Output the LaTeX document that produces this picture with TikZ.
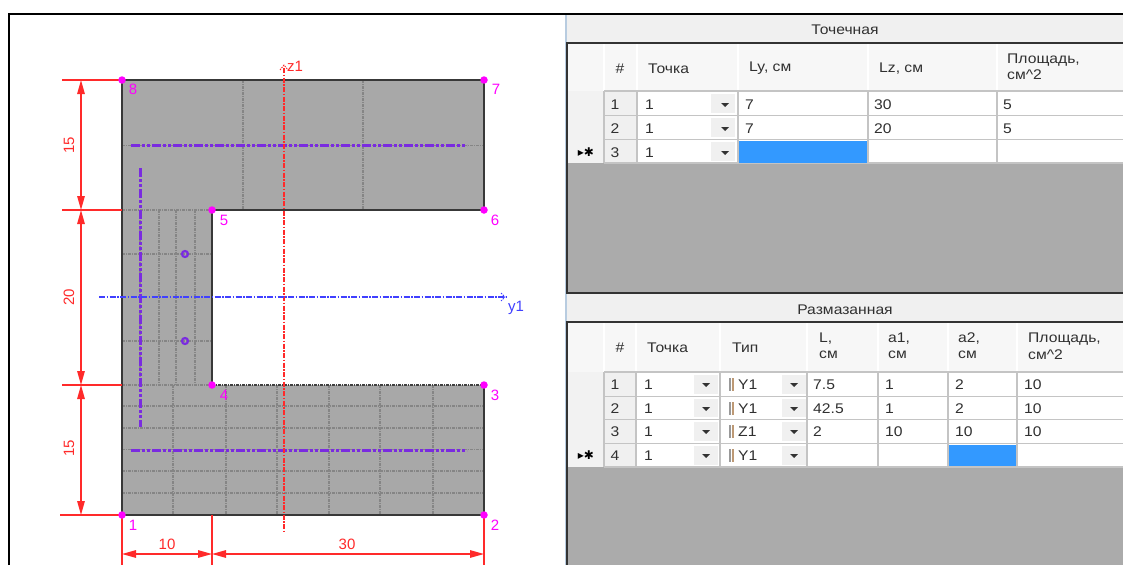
\documentclass[tikz,border=0pt]{standalone}
\usepackage{fontspec}
\setmainfont[FakeStretch=1.12]{Liberation Sans}
\newfontfamily\plainfont{Liberation Sans}
\newfontfamily\symfont{DejaVu Sans}
\usetikzlibrary{arrows.meta}
\definecolor{panelgray}{HTML}{F0F0F0}
\definecolor{areagray}{HTML}{ABABAB}
\definecolor{secgray}{HTML}{A8A8A8}
\definecolor{gridline}{HTML}{858585}
\definecolor{cellline}{HTML}{C4C4C4}
\definecolor{selblue}{HTML}{3399FF}
\definecolor{rebar}{HTML}{7A2BE0}
\definecolor{dimred}{HTML}{FF2A2A}
\definecolor{axisblue}{HTML}{4040FF}
\definecolor{ptmag}{HTML}{FF00FF}
\definecolor{sepblue}{HTML}{B8CCE0}
\definecolor{txt}{HTML}{303030}
\tikzset{
  x=1pt,y=-1pt,
  meshline/.style={gridline,line width=1.2pt,dash pattern=on 3pt off 1pt on 1pt off 1pt},
  rebarline/.style={rebar,line width=3pt,dash pattern=on 9pt off 2pt on 3pt off 2pt on 3pt off 2pt},
  secedge/.style={line width=1.5pt,draw=black!78},
  dimline/.style={dimred,line width=1.3pt},
  dimarrow/.style={dimred,line width=1.3pt,{Triangle[length=14pt,width=7.5pt]}-{Triangle[length=14pt,width=7.5pt]}},
  dimlabel/.style={text=dimred,font=\fontsize{15}{15}\selectfont\plainfont,inner sep=0pt},
  ptlabel/.style={text=ptmag,font=\fontsize{15}{15}\selectfont\plainfont,inner sep=0pt},
  ptdot/.style={fill=ptmag,draw=none,circle,minimum size=7.5pt,inner sep=0pt},
  ttext/.style={text=txt,font=\fontsize{14}{14}\selectfont,inner sep=0pt,anchor=west},
  ctext/.style={text=txt,font=\fontsize{14}{14}\selectfont,inner sep=0pt},
  ddbtn/.style={fill=panelgray,draw=none},
  cellsep/.style={cellline,line width=1.3pt},
}
\begin{document}
\begin{tikzpicture}
\useasboundingbox (0,0) rectangle (1123,565);
\fill[white] (0,0) rectangle (1123,565);
% right panel
\fill[panelgray] (566,15) rectangle (1123,565);
\draw[sepblue,line width=1.2pt] (566,15) -- (566,565);
% frame
\draw[black,line width=2pt] (9,565) -- (9,14) -- (1123,14);

% ---------- section ----------
\fill[secgray] (122,80) -- (484,80) -- (484,210) -- (212,210) -- (212,385) -- (484,385) -- (484,515) -- (122,515) -- cycle;
% mesh top flange
\foreach \x in {243,363} \draw[meshline] (\x,80) -- (\x,210);
\draw[meshline] (122,145.5) -- (484,145.5);
% mesh web
\foreach \x in {140,159,176,195} \draw[meshline] (\x,210) -- (\x,385);
\foreach \y in {210,254,341,385} \draw[meshline] (122,\y) -- (212,\y);
% mesh bottom flange
\foreach \x in {173,226,277,329,380,433} \draw[meshline] (\x,385) -- (\x,515);
\foreach \y in {406,428,449.5,471,493} \draw[meshline] (122,\y) -- (484,\y);
\draw[meshline,black!75] (212,385) -- (484,385);
% outline
\draw[secedge] (212,385) -- (212,210) -- (484,210) -- (484,80) -- (122,80) -- (122,515) -- (484,515) -- (484,385);
% rebars
\draw[rebarline] (131,145) -- (467,145);
\draw[rebarline] (131,450) -- (467,450);
\draw[rebarline] (140,168) -- (140,427);
\draw[rebar,line width=2.2pt] (185,254) circle (3pt);
\draw[rebar,line width=2.2pt] (185,341) circle (3pt);
% axes
\draw[dimred,line width=1.1pt,dash pattern=on 5pt off 1.5pt on 1.5pt off 1.5pt] (284,68) -- (284,532);
\draw[dimred,line width=0.9pt,dash pattern=on 1.5pt off 1pt] (280,70) -- (284,65) -- (288,70);
\draw[axisblue,line width=1.3pt,dash pattern=on 6pt off 1.5pt on 1.5pt off 1.5pt] (99,297) -- (507,297);
\draw[axisblue,line width=0.9pt,dash pattern=on 1.5pt off 1pt] (501,293) -- (505,297) -- (501,301);
\node[text=dimred,font=\fontsize{15}{15}\selectfont\plainfont,inner sep=0pt] (zlab) at (295,66) {z1};
\node[text=axisblue,font=\fontsize{15}{15}\selectfont\plainfont,inner sep=0pt] (ylab) at (516,308) {y1};
% dimension lines
\draw[dimline] (62,80) -- (122,80);
\draw[dimline] (62,210) -- (122,210);
\draw[dimline] (62,385) -- (122,385);
\draw[dimline] (60,515) -- (122,515);
\draw[dimline] (122,515) -- (122,565);
\draw[dimline] (212,515) -- (212,565);
\draw[dimline] (484,515) -- (484,565);
\draw[dimarrow] (81,80) -- (81,210);
\draw[dimarrow] (81,210) -- (81,385);
\draw[dimarrow] (81,385) -- (81,515);
\draw[dimarrow] (122,554) -- (212,554);
\draw[dimarrow] (212,554) -- (484,554);
\node[dimlabel,rotate=90] (d1) at (69,145) {15};
\node[dimlabel,rotate=90] (d2) at (69,297) {20};
\node[dimlabel,rotate=90] (d3) at (69,448) {15};
\node[dimlabel] (d4) at (167,544) {10};
\node[dimlabel] (d5) at (347,544) {30};
% points
\foreach \n/\x/\y/\lx/\ly in {1/122/515/133/525,2/484/515/495/525,3/484/385/495/395,4/212/385/224/395,5/212/210/224/220,6/484/210/495/220,7/484/80/496/89,8/122/80/133/89}{
  \node[ptdot] (p\n) at (\x,\y) {};
  \node[ptlabel] (pl\n) at (\lx,\ly) {\n};
}

% ---------- table 1 ----------
\node[ctext] (t1title) at (845,29.5) {Точечная};
\fill[areagray] (567,163) rectangle (1123,293);
\fill[white!97!black] (567,43) rectangle (1123,91);
\fill[white!95!black] (567,91) rectangle (604,163);
\foreach \x in {604,637,738,868,997} \draw[white,line width=1.2pt] (\x,44) -- (\x,91);
\draw[black!80,line width=1.5pt] (1123,43) -- (567,43) -- (567,293) -- (1123,293);
\draw[cellline,line width=1.5pt] (604,91) -- (1123,91);
\node[ctext] (t1h1) at (620,68.5) {\#};
\node[ttext] (t1h2) at (648,68.5) {Точка};
\node[ttext] (t1h3) at (749,68.5) {Ly, см};
\node[ttext] (t1h4) at (879,68.5) {Lz, см};
\node[ttext] (t1h5) at (1007,60) {Площадь,};
\node[ttext] (t1h6) at (1007,74.5) {см\textasciicircum 2};
\foreach \r/\ya/\yb in {1/92/115,2/116/139,3/140/163}{
  \fill[panelgray] (604,\ya) rectangle (637,\yb);
  \fill[white] (638,\ya) rectangle (1123,\yb);
  \fill[ddbtn] (711,\ya+2) rectangle (735,\yb-2);
  \fill[black!80] (721,\ya+11) -- (729,\ya+11) -- (725,\ya+15) -- cycle;
  \node[ctext] (t1r\r) at (615,\ya+12.5) {\r};
  \node[ttext] (t1p\r) at (645,\ya+12.5) {1};
}
\foreach \y in {91,115.5,139.5,163} \draw[cellsep] (604,\y) -- (1123,\y);
\foreach \x in {604,637,738,868,997} \draw[cellsep] (\x,91) -- (\x,163);
\fill[selblue] (739,141) rectangle (867,163);
\node[ttext] (t1a1) at (745,104.5) {7};
\node[ttext] (t1a2) at (874,104.5) {30};
\node[ttext] (t1a3) at (1003,104.5) {5};
\node[ttext] (t1b1) at (745,128.5) {7};
\node[ttext] (t1b2) at (874,128.5) {20};
\node[ttext] (t1b3) at (1003,128.5) {5};
\node[text=black,font=\fontsize{12}{12}\selectfont\symfont,inner sep=0pt] (t1mark) at (586,152) {▸✱};

% ---------- table 2 ----------
\node[ctext] (t2title) at (845,309.5) {Размазанная};
\fill[areagray] (567,467) rectangle (1123,565);
\fill[white!97!black] (567,322) rectangle (1123,372);
\fill[white!95!black] (567,372) rectangle (604,467);
\foreach \x in {604,636,720,807,878,948,1017} \draw[white,line width=1.2pt] (\x,323) -- (\x,372);
\draw[black!80,line width=1.5pt] (1123,322) -- (567,322) -- (567,565);
\node[ctext] (t2h1) at (620,347.5) {\#};
\node[ttext] (t2h2) at (647,347.5) {Точка};
\node[ttext] (t2h3) at (732,347.5) {Тип};
\node[ttext] (t2h4) at (819,339) {L,};
\node[ttext] (t2h5) at (819,354.5) {см};
\node[ttext] (t2h6) at (888,339) {а1,};
\node[ttext] (t2h7) at (888,354.5) {см};
\node[ttext] (t2h8) at (958,339) {а2,};
\node[ttext] (t2h9) at (958,354.5) {см};
\node[ttext] (t2h10) at (1028,339) {Площадь,};
\node[ttext] (t2h11) at (1028,354.5) {см\textasciicircum 2};
\foreach \r/\ya/\yb/\ty in {1/373/396/Y1,2/397/419/Y1,3/420/443/Z1,4/444/467/Y1}{
  \fill[panelgray] (604,\ya) rectangle (636,\yb);
  \fill[white] (637,\ya) rectangle (1123,\yb);
  \fill[ddbtn] (694,\ya+2) rectangle (718,\yb-2);
  \fill[ddbtn] (782,\ya+2) rectangle (806,\yb-2);
  \fill[black!80] (702,\ya+10) -- (710,\ya+10) -- (706,\ya+14) -- cycle;
  \fill[black!80] (790,\ya+10) -- (798,\ya+10) -- (794,\ya+14) -- cycle;
  \fill[black!40] (729,\ya+5) rectangle (731,\ya+18);
  \fill[orange!35!gray!80] (731.5,\ya+5) rectangle (733.5,\ya+18);
  \node[ctext] (t2r\r) at (615,\ya+11.5) {\r};
  \node[ttext] (t2p\r) at (644,\ya+11.5) {1};
  \node[ttext] (t2t\r) at (738,\ya+11.5) {\ty};
}
\foreach \y in {372,396.5,419.5,443.5,467} \draw[cellsep] (604,\y) -- (1123,\y);
\foreach \x in {604,636,720,807,878,948,1017} \draw[cellsep] (\x,372) -- (\x,467);
\fill[selblue] (949,445) rectangle (1016,466);
\foreach \r/\ya/\l/\aa/\ab/\s in {1/373/7.5/1/2/10,2/397/42.5/1/2/10,3/420/2/10/10/10}{
  \node[ttext] (t2l\r) at (813,\ya+11.5) {\l};
  \node[ttext] (t2a\r) at (885,\ya+11.5) {\aa};
  \node[ttext] (t2b\r) at (955,\ya+11.5) {\ab};
  \node[ttext] (t2s\r) at (1024,\ya+11.5) {\s};
}
\node[text=black,font=\fontsize{12}{12}\selectfont\symfont,inner sep=0pt] (t2mark) at (586,455) {▸✱};
\end{tikzpicture}
\end{document}
